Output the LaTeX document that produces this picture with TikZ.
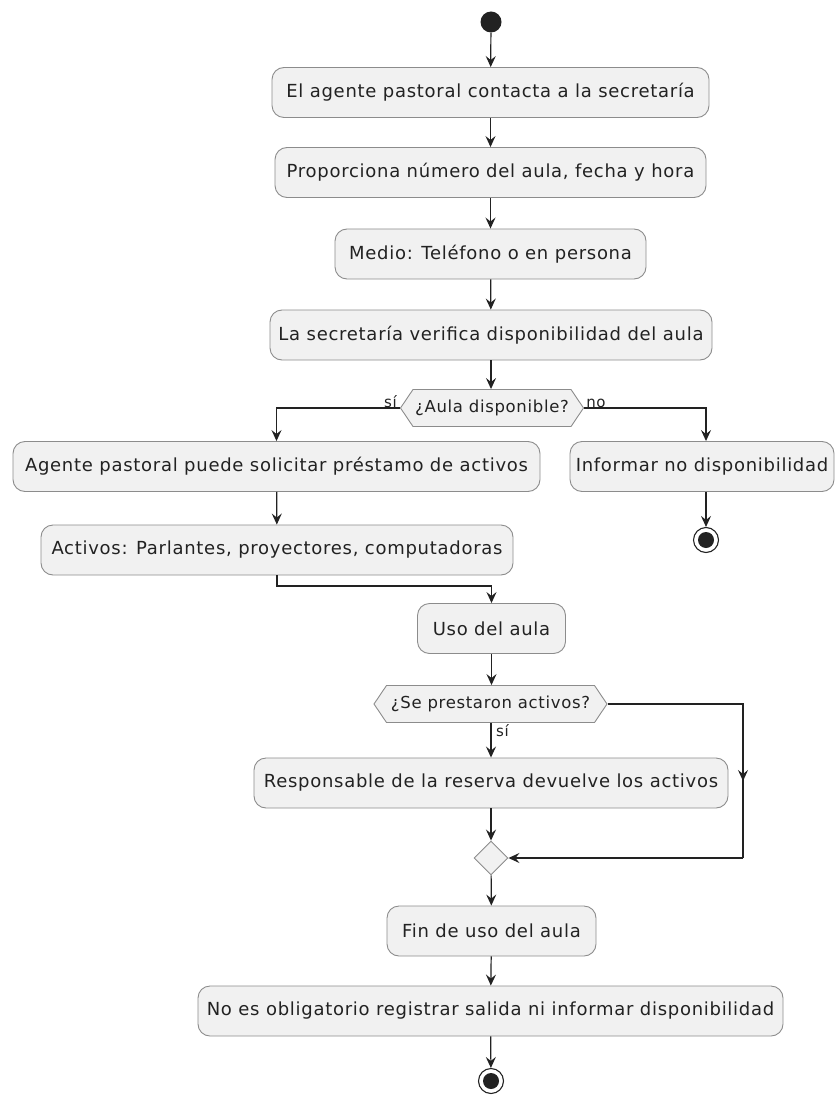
\documentclass[tikz,border=0pt]{standalone}
\usepackage{fontspec}
\setmainfont{DejaVu Sans}[LetterSpace=4]
\usetikzlibrary{arrows.meta,shapes.geometric,shapes.symbols,calc}
\definecolor{boxfill}{HTML}{F1F1F1}
\definecolor{boxline}{HTML}{8C8C8C}
\definecolor{ink}{HTML}{222222}
\begin{document}
\begin{tikzpicture}[x=1pt,y=-1pt,
  act/.style={draw=boxline, fill=boxfill, rounded corners=12pt, line width=0.9pt,
    minimum height=50pt, inner xsep=4pt, font=\fontsize{18}{21}\selectfont, text=ink},
  dec/.style={draw=boxline, fill=boxfill, line width=0.9pt, shape=signal,
    signal to=west and east, signal pointer angle=112, minimum height=37pt,
    inner xsep=1pt, inner ysep=2pt, font=\fontsize{16.5}{19}\selectfont, text=ink},
  merge/.style={draw=boxline, fill=boxfill, line width=0.9pt, shape=diamond,
    minimum size=34pt, inner sep=0pt},
  startnode/.style={circle, fill=ink, minimum size=21pt, inner sep=0pt},
  endnode/.style={circle, draw=ink, line width=1.1pt, fill=white, minimum size=25pt, inner sep=0pt,
    path picture={\fill[ink] (path picture bounding box.center) circle (8pt);}},
  flow/.style={draw=ink, line width=1.2pt, -{Stealth[length=11pt,width=10pt,inset=4pt]}},
  lab/.style={font=\fontsize{15}{17}\selectfont, text=ink, inner sep=1pt},
]
\useasboundingbox (0,0) rectangle (836,1099);

\node[startnode] (s) at (491,22) {};
\node[act, minimum width=437pt] (b1) at (490.5,92.5) {El agente pastoral contacta a la secretaría};
\node[act, minimum width=431pt] (b2) at (490.5,172.5) {Proporciona número del aula, fecha y hora};
\node[act, minimum width=311pt] (b3) at (490.5,254) {Medio: Teléfono o en persona};
\node[act, minimum width=442pt] (b4) at (491,335) {La secretaría verifica disponibilidad del aula};
\node[dec, minimum width=183pt] (d1) at (492,408) {¿Aula disponible?};
\node[act, minimum width=527pt] (b5) at (276.5,466.5) {Agente pastoral puede solicitar préstamo de activos};
\node[act, minimum width=264pt] (b6) at (702,466.5) {Informar no disponibilidad};
\node[endnode] (e1) at (706,540) {};
\node[act, minimum width=472pt] (b7) at (277,550) {Activos: Parlantes, proyectores, computadoras};
\node[act, minimum width=148pt] (b8) at (491.5,628.5) {Uso del aula};
\node[dec, minimum width=233pt] (d2) at (490.5,704) {¿Se prestaron activos?};
\node[act, minimum width=474pt] (b9) at (491,783) {Responsable de la reserva devuelve los activos};
\node[merge] (m) at (491,858) {};
\node[act, minimum width=209pt] (b10) at (491.5,931) {Fin de uso del aula};
\node[act, minimum width=585pt] (b11) at (490.5,1011) {No es obligatorio registrar salida ni informar disponibilidad};
\node[endnode] (e2) at (491,1081) {};

\coordinate (k1) at (277,586);
\coordinate (k2) at (743,704);
\coordinate (k3) at (743,858);

\draw[flow] (s) -- (b1);
\draw[flow] (b1) -- (b2);
\draw[flow] (b2) -- (b3);
\draw[flow] (b3) -- (b4);
\draw[flow] (b4) -- (b4 |- d1.north);
\draw[flow] (d1.west) -| (b5.north);
\draw[flow] (d1.east) -| (b6.north -| e1);
\draw[flow] (b6.south -| e1) -- (e1);
\draw[flow] (b5) -- (b7);
\draw[flow] (b7.south) -- (k1) -| (b8.north);
\draw[flow] (b8) -- (b8 |- d2.north);
\draw[flow] (d2.south -| b9) -- (b9);
\draw[flow] (b9) -- (m);
\draw[line width=1.2pt, draw=ink] (d2.east) -- (k2) -- (k3);
\draw[flow] (k2) -- ($(k2)!0.5!(k3)$);
\draw[flow] (k3) -- (m.east);
\draw[flow] (m) -- (b10);
\draw[flow] (b10) -- (b11);
\draw[flow] (b11) -- (e2);

\node[lab, anchor=south east] (ls1) at ([xshift=-2pt,yshift=-1pt]d1.west) {sí};
\node[lab, anchor=south west] (ln1) at ([xshift=1pt,yshift=-1pt]d1.east) {no};
\node[lab, anchor=north west] (ls2) at ([xshift=4pt]d2.south -| b9) {sí};
\end{tikzpicture}
\end{document}
